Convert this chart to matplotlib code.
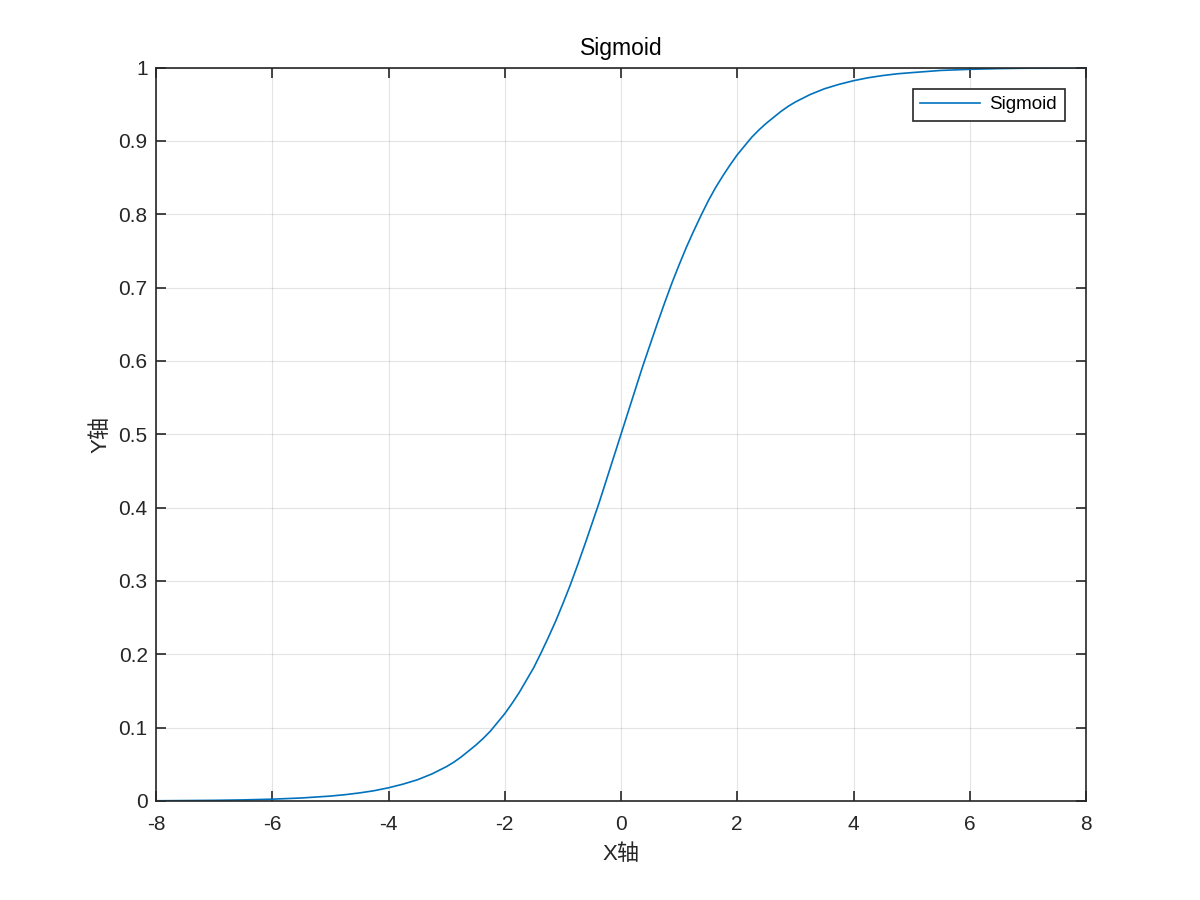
# -*- coding: utf-8 -*-

import matplotlib
matplotlib.use('Agg')
import matplotlib.pyplot as plt

# values
x_vals = [-8, -7.5, -7, -6.5, -6, -5.5, -5, -4.75, -4.5, -4.25,
          -4, -3.75, -3.5, -3.25, -3, -2.875, -2.75, -2.625, -2.5, -2.375,
          -2.25, -2.125, -2, -1.875, -1.75, -1.625, -1.5, -1.375, -1.25, -1.125,
          -1, -0.875, -0.75, -0.625, -0.5, -0.375, -0.25, -0.125,
          0, 0.125, 0.25, 0.375, 0.5, 0.625, 0.75, 0.875,
          1, 1.125, 1.25, 1.375, 1.5, 1.625, 1.75, 1.875, 2, 2.125,
          2.25, 2.375, 2.5, 2.625, 2.75, 2.875, 3, 3.25, 3.5, 3.75,
          4, 4.25, 4.5, 4.75, 5, 5.5, 6, 6.5, 7, 7.5, 8]
y_vals = [0.0003, 0.0006, 0.0009, 0.0015, 0.0025, 0.0041, 0.0067, 0.0086, 0.011, 0.014,
          0.018, 0.023, 0.029, 0.037, 0.047, 0.053, 0.060, 0.068, 0.076, 0.085,
          0.095, 0.107, 0.119, 0.133, 0.148, 0.165, 0.182, 0.202, 0.223, 0.245,
          0.269, 0.294, 0.321, 0.349, 0.378, 0.407, 0.438, 0.469,
          0.500, 0.531, 0.562, 0.593, 0.622, 0.651, 0.679, 0.706,
          0.731, 0.755, 0.777, 0.798, 0.818, 0.836, 0.852, 0.867, 0.881, 0.893,
          0.905, 0.915, 0.924, 0.932, 0.940, 0.947, 0.953, 0.963, 0.971, 0.977,
          0.982, 0.986, 0.989, 0.9914, 0.993, 0.996, 0.9975, 0.9985, 0.9991, 0.9994, 0.9997]

x_ticks = [-8, -6, -4, -2, 0, 2, 4, 6, 8]
y_ticks = [0, 0.1, 0.2, 0.3, 0.4, 0.5, 0.6, 0.7, 0.8, 0.9, 1]
y_labels = ['0', '0.1', '0.2', '0.3', '0.4', '0.5', '0.6', '0.7', '0.8', '0.9', '1']

plt.rcParams['font.family'] = ['Liberation Sans', 'Noto Sans CJK SC', 'DejaVu Sans']

AX_COLOR = '#262626'
LINE_COLOR = '#0072BD'

fig = plt.figure(figsize=(12, 9), dpi=100)
ax = fig.add_axes([0.13, 0.11, 0.775, 0.815])

ax.plot(x_vals, y_vals, color=LINE_COLOR, lw=1.2, label='Sigmoid')

ax.set_xlim(-8, 8)
ax.set_ylim(0, 1)
ax.set_xticks(x_ticks)
ax.set_xticklabels([str(t) for t in x_ticks])
ax.set_yticks(y_ticks)
ax.set_yticklabels(y_labels)

ax.grid(True, color='#262626', alpha=0.12, lw=0.8)
ax.set_axisbelow(True)
ax.tick_params(direction='in', top=True, right=True, length=7, width=1.2,
               colors=AX_COLOR, labelsize=15)
ax.tick_params(axis='x', pad=10)
ax.tick_params(axis='y', pad=6)
for sp in ax.spines.values():
    sp.set_color(AX_COLOR)
    sp.set_linewidth(1.2)

ax.set_title('Sigmoid', fontsize=16.5, color='black', pad=9)
ax.set_xlabel('X轴', fontsize=16, color=AX_COLOR, labelpad=7,
              family=['Liberation Sans', 'Noto Sans CJK SC'])
ax.set_ylabel('Y轴', fontsize=16, color=AX_COLOR, labelpad=5,
              family=['Liberation Sans', 'Noto Sans CJK SC'])

leg = ax.legend(loc='upper right', bbox_to_anchor=(0.977, 0.971), fontsize=13.5,
                fancybox=False, framealpha=1, edgecolor=AX_COLOR,
                borderaxespad=0, handlelength=3.2, borderpad=0.4,
                handletextpad=0.5)
leg.get_frame().set_linewidth(1.2)

fig.savefig('out.png', dpi=100)
